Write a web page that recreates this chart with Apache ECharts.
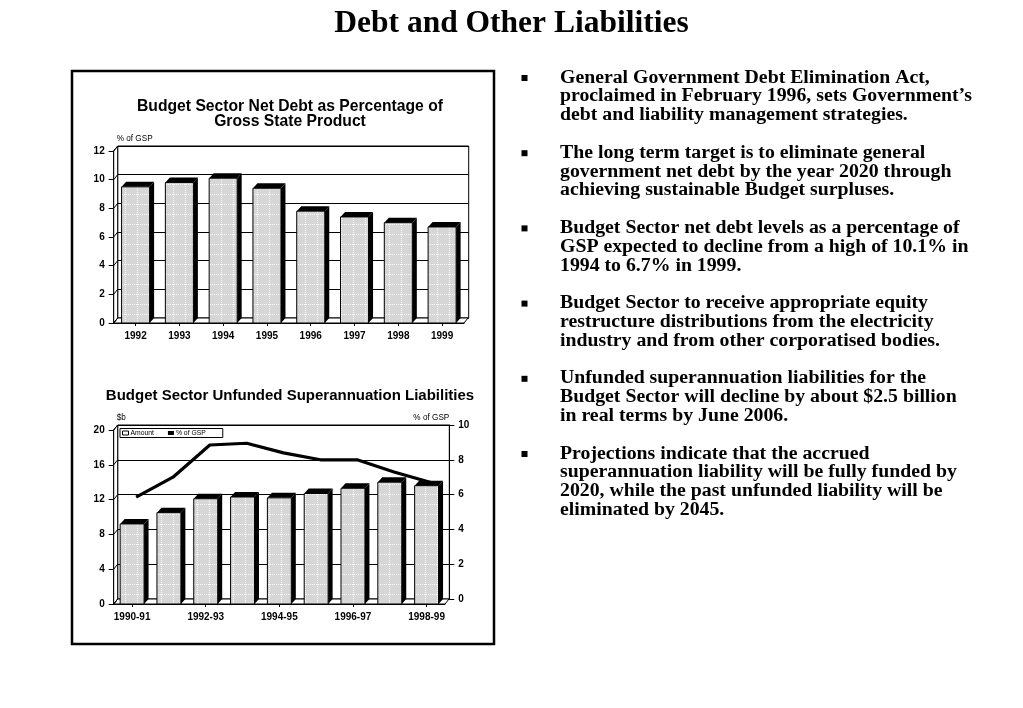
<!DOCTYPE html>
<html><head><meta charset="utf-8">
<script src="https://cdn.jsdelivr.net/npm/echarts@6/dist/echarts.min.js"></script>
<style>html,body{margin:0;padding:0;background:#fff}#c{width:1023px;height:708px}</style>
</head><body><div id="c"></div>
<script>
// ---- data ----
const debtYears = ['1992','1993','1994','1995','1996','1997','1998','1999'];
const debtPctGsp = [9.5, 9.8, 10.1, 9.4, 7.8, 7.4, 7.0, 6.7];
const debtTicks = [0, 2, 4, 6, 8, 10, 12];

const superYears = ['1990-91','1991-92','1992-93','1993-94','1994-95','1995-96','1996-97','1997-98','1998-99'];
const superAmount = [9.2, 10.5, 12.1, 12.3, 12.2, 12.7, 13.3, 14.0, 13.6];
const superPctGsp = [5.85, 7.0, 8.85, 8.95, 8.4, 8.0, 8.0, 7.3, 6.7];
const superTicks = [0, 4, 8, 12, 16, 20];

const bulletParas = [
  ['General Government Debt Elimination Act,', 'proclaimed in February 1996, sets Government\u2019s', 'debt and liability management strategies.'],
  ['The long term target is to eliminate general', 'government net debt by the year 2020 through', 'achieving sustainable Budget surpluses.'],
  ['Budget Sector net debt levels as a percentage of', 'GSP expected to decline from a high of 10.1% in', '1994 to 6.7% in 1999.'],
  ['Budget Sector to receive appropriate equity', 'restructure distributions from the electricity', 'industry and from other corporatised bodies.'],
  ['Unfunded superannuation liabilities for the', 'Budget Sector will decline by about $2.5 billion', 'in real terms by June 2006.'],
  ['Projections indicate that the accrued', 'superannuation liability will be fully funded by', '2020, while the past unfunded liability will be', 'eliminated by 2045.']
];

// ---- helpers ----
function makePattern() {
  const c = document.createElement('canvas');
  c.width = 12; c.height = 10;
  const g = c.getContext('2d');
  g.fillStyle = '#d6d6d6'; g.fillRect(0, 0, 12, 10);
  g.fillStyle = 'rgba(255,255,255,0.85)';
  for (let y = 0; y < 10; y += 2) g.fillRect(5, y, 1, 1);
  for (let x = 0; x < 12; x += 2) g.fillRect(x, 4, 1, 1);
  return c;
}
const pattern = { image: makePattern(), repeat: 'repeat' };

function bar3d(ratio, dx, dy) {
  return function (params, api) {
    const cat = api.value(0), v = api.value(1);
    const top = api.coord([cat, v]);
    const base = api.coord([cat, 0]);
    const band = api.size([1, 0])[0];
    const w = band * ratio;
    const x = top[0] - w / 2, yT = top[1], yB = base[1];
    return {
      type: 'group',
      children: [
        { type: 'polygon', shape: { points: [[x + w, yT], [x + w + dx, yT + dy], [x + w + dx, yB + dy], [x + w, yB]] }, style: { fill: '#000' } },
        { type: 'polygon', shape: { points: [[x, yT], [x + dx, yT + dy], [x + w + dx, yT + dy], [x + w, yT]] }, style: { fill: '#000' } },
        { type: 'rect', shape: { x: x, y: yT, width: w, height: yB - yT }, style: { fill: pattern, stroke: '#000', lineWidth: 1 } }
      ]
    };
  };
}

function frame3d(nCats, ticks, dx, dy) {
  return function (params, api) {
    const band = api.size([1, 0])[0];
    const p0 = api.coord([0, 0]);
    const pn = api.coord([nCats - 1, 0]);
    const x0 = p0[0] - band / 2, x1 = pn[0] + band / 2, yb = p0[1];
    const yt = api.coord([0, ticks[ticks.length - 1]])[1];
    const children = [
      { type: 'polygon', shape: { points: [[x0, yb], [x1, yb], [x1 + dx, yb + dy], [x0 + dx, yb + dy]] }, style: { fill: '#fff', stroke: '#000', lineWidth: 1 } },
      { type: 'polygon', shape: { points: [[x0, yb], [x0, yt], [x0 + dx, yt + dy], [x0 + dx, yb + dy]] }, style: { fill: '#fff', stroke: '#000', lineWidth: 1 } }
    ];
    ticks.forEach(function (t) {
      const y = api.coord([0, t])[1];
      children.push({ type: 'line', shape: { x1: x0, y1: y, x2: x0 + dx, y2: y + dy }, style: { stroke: '#000', lineWidth: 1 } });
    });
    return { type: 'group', children: children };
  };
}

const tickFont = { color: '#000', fontFamily: 'Liberation Sans, Arial', fontWeight: 'bold', fontSize: 10 };
const blackLine = { show: true, lineStyle: { color: '#000', width: 1 } };

const chart = echarts.init(document.getElementById('c'), null, { renderer: 'canvas' });

const graphics = [
  { type: 'text', left: 'center', top: 8, style: { text: 'Debt and Other Liabilities', font: 'bold 31.5px "Liberation Serif", "Times New Roman", serif', fill: '#000' } },
  { type: 'rect', shape: { x: 72, y: 71, width: 422, height: 573 }, style: { fill: 'none', stroke: '#000', lineWidth: 2.5 } }
];
let lineIdx = 0;
const LH = 18.8, firstCenter = 77.5;
bulletParas.forEach(function (para) {
  const cy = firstCenter + lineIdx * LH;
  graphics.push({ type: 'rect', shape: { x: 521.5, y: cy - 2.5, width: 6, height: 6 }, style: { fill: '#000' } });
  graphics.push({ type: 'text', x: 560, y: cy - LH / 2, style: { text: para.join('\n'), font: 'bold 19.8px "Liberation Serif", "Times New Roman", serif', lineHeight: LH, fill: '#000', verticalAlign: 'top' } });
  lineIdx += para.length + 1;
});

const option = {
  animation: false,
  backgroundColor: '#fff',
  title: [
    { text: 'Budget Sector Net Debt as Percentage of\nGross State Product', left: 285, top: 93.5, textAlign: 'center',
      textStyle: { fontFamily: 'Liberation Sans, Arial', fontWeight: 'bold', fontSize: 15.7, lineHeight: 15.5, color: '#000' } },
    { text: 'Budget Sector Unfunded Superannuation Liabilities', left: 285, top: 383.5, textAlign: 'center',
      textStyle: { fontFamily: 'Liberation Sans, Arial', fontWeight: 'bold', fontSize: 15, color: '#000' } }
  ],
  legend: {
    left: 120, top: 428.5, orient: 'horizontal',
    padding: [1, 17, 1, 2], itemGap: 14, itemWidth: 6, itemHeight: 4,
    backgroundColor: '#fff', borderColor: '#000', borderWidth: 1, borderRadius: 0,
    textStyle: { fontFamily: 'Liberation Sans, Arial', fontSize: 6.8, color: '#000', padding: [0, 0, 0, -3] },
    data: [
      { name: 'Amount', icon: 'rect', itemStyle: { color: '#fff', borderColor: '#000', borderWidth: 1 } },
      { name: '% of GSP', icon: 'rect', itemStyle: { color: '#000' } }
    ]
  },
  graphic: graphics,
  grid: [
    { left: 113.7, right: 1023 - 464, top: 151, bottom: 708 - 323 },
    { left: 117.7, right: 1023 - 468.7, top: 146, bottom: 708 - 318, show: true, borderColor: '#000', borderWidth: 1, backgroundColor: 'transparent' },
    { left: 113.7, right: 1023 - 445, top: 430, bottom: 708 - 604 },
    { left: 117.7, right: 1023 - 449.3, top: 425, bottom: 708 - 599, show: true, borderColor: '#000', borderWidth: 1, backgroundColor: 'transparent' }
  ],
  xAxis: [
    { gridIndex: 0, type: 'category', data: debtYears, axisLine: blackLine,
      axisTick: { show: true, alignWithLabel: true, length: 3, lineStyle: { color: '#000' } },
      axisLabel: Object.assign({ margin: 8 }, tickFont), splitLine: { show: false } },
    { gridIndex: 1, type: 'category', data: debtYears, axisLine: { show: false }, axisTick: { show: false }, axisLabel: { show: false }, splitLine: { show: false } },
    { gridIndex: 2, type: 'category', data: superYears, axisLine: blackLine,
      axisTick: { show: true, alignWithLabel: true, interval: 1, length: 3, lineStyle: { color: '#000' } },
      axisLabel: Object.assign({ margin: 8, interval: 1 }, tickFont), splitLine: { show: false } },
    { gridIndex: 3, type: 'category', data: superYears, axisLine: { show: false }, axisTick: { show: false }, axisLabel: { show: false }, splitLine: { show: false } }
  ],
  yAxis: [
    { gridIndex: 0, type: 'value', min: 0, max: 12, interval: 2, axisLine: blackLine,
      axisTick: { show: true, length: 5, lineStyle: { color: '#000' } },
      axisLabel: Object.assign({ margin: 9 }, tickFont), splitLine: { show: false },
      name: '% of GSP', nameLocation: 'end', nameGap: 8,
      nameTextStyle: { fontFamily: 'Liberation Sans, Arial', fontSize: 8.2, color: '#000', align: 'left', padding: [0, 0, 0, 3] } },
    { gridIndex: 1, type: 'value', min: 0, max: 12, interval: 2, axisLine: { show: false }, axisTick: { show: false }, axisLabel: { show: false },
      splitLine: { show: true, lineStyle: { color: '#000', width: 1 } } },
    { gridIndex: 2, type: 'value', min: 0, max: 20, interval: 4, axisLine: blackLine,
      axisTick: { show: true, length: 5, lineStyle: { color: '#000' } },
      axisLabel: Object.assign({ margin: 9 }, tickFont), splitLine: { show: false },
      name: '$b', nameLocation: 'end', nameGap: 8,
      nameTextStyle: { fontFamily: 'Liberation Sans, Arial', fontSize: 8.2, color: '#000', align: 'left', padding: [0, 0, 0, 3] } },
    { gridIndex: 3, type: 'value', min: 0, max: 20, interval: 4, axisLine: { show: false }, axisTick: { show: false }, axisLabel: { show: false },
      splitLine: { show: true, lineStyle: { color: '#000', width: 1 } } },
    { gridIndex: 3, type: 'value', position: 'right', min: 0, max: 10, interval: 2, axisLine: blackLine,
      axisTick: { show: true, length: 5, lineStyle: { color: '#000' } },
      axisLabel: Object.assign({ margin: 9 }, tickFont), splitLine: { show: false },
      name: '% of GSP', nameLocation: 'end', nameGap: 3,
      nameTextStyle: { fontFamily: 'Liberation Sans, Arial', fontSize: 8.2, color: '#000', align: 'right', padding: [0, 0, 0, 0] } }
  ],
  series: [
    { name: 'frameTop', type: 'custom', xAxisIndex: 0, yAxisIndex: 0, z: 1, clip: false, silent: true,
      renderItem: frame3d(debtYears.length, debtTicks, 4, -5), data: [[0, 0]] },
    { name: 'Net debt % of GSP', type: 'custom', xAxisIndex: 0, yAxisIndex: 0, z: 3, clip: false,
      encode: { x: 0, y: 1 },
      renderItem: bar3d(0.64, 4.5, -5), data: debtPctGsp.map(function (v, i) { return [i, v]; }) },
    { name: 'frameBottom', type: 'custom', xAxisIndex: 2, yAxisIndex: 2, z: 1, clip: false, silent: true,
      renderItem: frame3d(superYears.length, superTicks, 4, -5), data: [[0, 0]] },
    { name: 'Amount', type: 'custom', xAxisIndex: 2, yAxisIndex: 2, z: 3, clip: false,
      encode: { x: 0, y: 1 },
      renderItem: bar3d(0.65, 4.5, -5), data: superAmount.map(function (v, i) { return [i, v]; }) },
    { name: '% of GSP', type: 'line', xAxisIndex: 3, yAxisIndex: 4, z: 4, data: superPctGsp,
      showSymbol: false, symbol: 'none', lineStyle: { color: '#000', width: 3.2 }, itemStyle: { color: '#000' } }
  ]
};
chart.setOption(option);
</script>
</body></html>
